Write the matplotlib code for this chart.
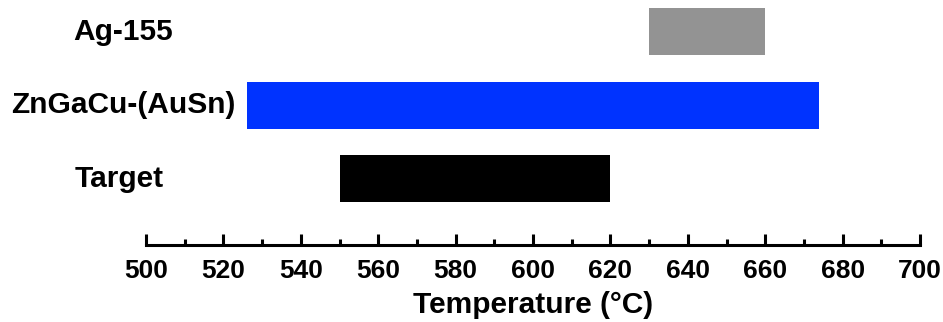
import numpy as np
import matplotlib.pyplot as plt
from matplotlib.ticker import MultipleLocator

plt.rcParams['font.family'] = ['Liberation Sans', 'DejaVu Sans']
plt.rcParams['font.weight'] = 'bold'

# temperature ranges (°C), bottom to top
names = ['Target', 'ZnGaCu-(AuSn)', 'Ag-155']
t_start = [550, 526, 630]
t_end = [620, 674, 660]
colors = ['#000000', '#0033ff', '#939393']

fig = plt.figure(figsize=(9.43, 3.22), dpi=100)
ax = fig.add_axes([146 / 943, 77 / 322, 774 / 943, 245 / 322])

ypos = np.arange(len(names))
widths = np.array(t_end) - np.array(t_start)
ax.barh(ypos, widths, left=t_start, height=0.64, color=colors)

# row labels centred left of the axis
label_x = [-0.035, -0.0297, -0.0297]
for y, name, lx in zip(ypos, names, label_x):
    ax.text(lx, y, name, transform=ax.get_yaxis_transform(),
            ha='center', va='center', fontsize=21.5, fontweight='bold')

ax.set_xlim(500, 700)
ax.set_ylim(-0.905, 2.43)
ax.xaxis.set_major_locator(MultipleLocator(20))
ax.xaxis.set_minor_locator(MultipleLocator(10))
ax.tick_params(axis='x', which='major', direction='in', length=8, width=2.2,
               labelsize=19, pad=10)
ax.tick_params(axis='x', which='minor', direction='in', length=4.5, width=2.2)
ax.set_yticks([])
for s in ['left', 'right', 'top']:
    ax.spines[s].set_visible(False)
ax.spines['bottom'].set_linewidth(2.2)
ax.set_xlabel('Temperature (°C)', fontsize=21.5, fontweight='bold', labelpad=6)

fig.savefig('out.png', dpi=100)
